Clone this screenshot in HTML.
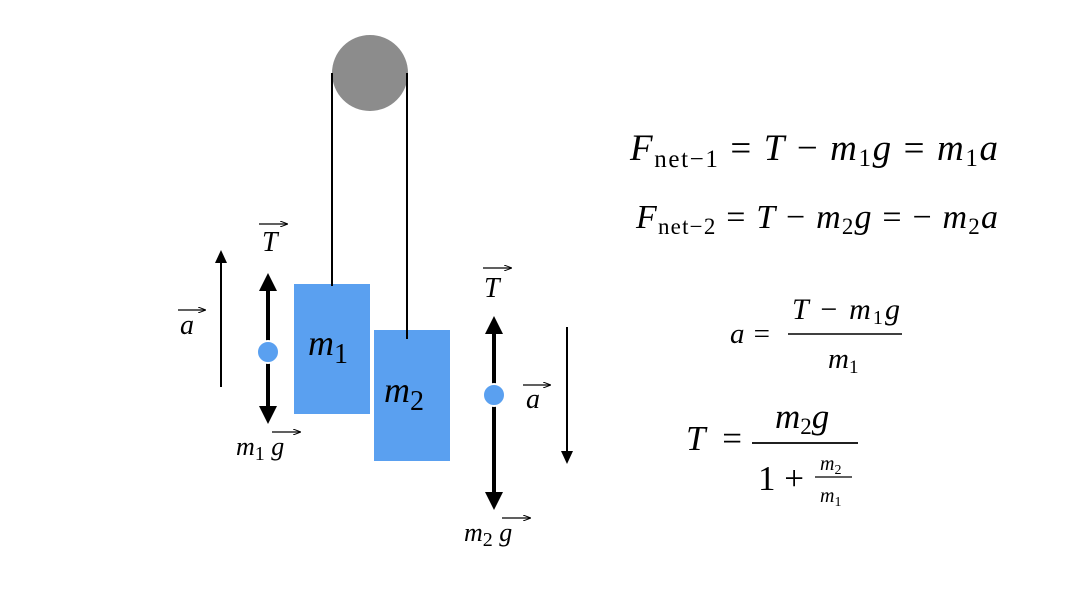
<!DOCTYPE html>
<html><head><meta charset="utf-8"><style>
html,body{margin:0;padding:0;background:#fff;}
svg{display:block;}
text{font-family:"Liberation Serif",serif;fill:#000;}
.i{font-style:italic;}
</style></head><body>
<svg width="1076" height="592" viewBox="0 0 1076 592" xmlns="http://www.w3.org/2000/svg">
<defs>
<marker id="sm" markerWidth="8" markerHeight="6" refX="7" refY="3" orient="auto" markerUnits="userSpaceOnUse"><path d="M0,0 L8,3 L0,6" fill="none" stroke="#000" stroke-width="1"/></marker>
</defs>
<circle cx="370" cy="73" r="38" fill="#8c8c8c"/>
<line x1="332" y1="73" x2="332" y2="286" stroke="#000" stroke-width="2"/>
<line x1="407" y1="73" x2="407" y2="339" stroke="#000" stroke-width="2"/>
<rect x="294" y="284" width="76" height="130" fill="#5aa0f0"/>
<rect x="374" y="330" width="76" height="131" fill="#5aa0f0"/>
<line x1="332" y1="200" x2="332" y2="286" stroke="#000" stroke-width="2"/>
<line x1="407" y1="200" x2="407" y2="339" stroke="#000" stroke-width="2"/>
<text x="308" y="355" class="i" font-size="36">m<tspan font-style="normal" font-size="28" dy="8">1</tspan></text>
<text x="384" y="402" class="i" font-size="36">m<tspan font-style="normal" font-size="28" dy="8">2</tspan></text>
<line x1="221" y1="387" x2="221" y2="262" stroke="#000" stroke-width="2"/>
<polygon points="221,250 215,263 227,263" fill="#000"/>
<text x="180" y="334" class="i" font-size="28">a</text>
<line x1="178" y1="310" x2="205" y2="310" stroke="#000" stroke-width="1.2" marker-end="url(#sm)"/>
<line x1="268" y1="285" x2="268" y2="412" stroke="#000" stroke-width="4"/>
<polygon points="268,273 259,291 277,291" fill="#000"/>
<polygon points="268,424 259,406 277,406" fill="#000"/>
<circle cx="268" cy="352" r="11" fill="#5aa0f0" stroke="#fff" stroke-width="2"/>
<text x="262" y="251" class="i" font-size="28">T</text>
<line x1="259" y1="224" x2="287" y2="224" stroke="#000" stroke-width="1.2" marker-end="url(#sm)"/>
<text x="236" y="455" class="i" font-size="26">m<tspan font-style="normal" font-size="20" dy="5">1</tspan><tspan dy="-5"> g</tspan></text>
<line x1="272" y1="432" x2="300" y2="432" stroke="#000" stroke-width="1.2" marker-end="url(#sm)"/>
<line x1="494" y1="328" x2="494" y2="498" stroke="#000" stroke-width="4"/>
<polygon points="494,316 485,334 503,334" fill="#000"/>
<polygon points="494,510 485,492 503,492" fill="#000"/>
<circle cx="494" cy="395" r="11" fill="#5aa0f0" stroke="#fff" stroke-width="2"/>
<text x="484" y="297" class="i" font-size="28">T</text>
<line x1="483" y1="268" x2="511" y2="268" stroke="#000" stroke-width="1.2" marker-end="url(#sm)"/>
<text x="526" y="408" class="i" font-size="28">a</text>
<line x1="523" y1="385" x2="550" y2="385" stroke="#000" stroke-width="1.2" marker-end="url(#sm)"/>
<line x1="567" y1="327" x2="567" y2="452" stroke="#000" stroke-width="2"/>
<polygon points="567,464 561,451 573,451" fill="#000"/>
<text x="464" y="541" class="i" font-size="26">m<tspan font-style="normal" font-size="20" dy="5">2</tspan><tspan dy="-5"> g</tspan></text>
<line x1="502" y1="518" x2="530" y2="518" stroke="#000" stroke-width="1.2" marker-end="url(#sm)"/>
<text x="630" y="160" font-size="37" textLength="368" lengthAdjust="spacing"><tspan class="i">F</tspan><tspan font-size="25" dy="7">net−1</tspan><tspan dy="-7"> = </tspan><tspan class="i">T</tspan> − <tspan class="i">m</tspan><tspan font-size="25" dy="6">1</tspan><tspan class="i" dy="-6">g</tspan> = <tspan class="i">m</tspan><tspan font-size="25" dy="6">1</tspan><tspan class="i" dy="-6">a</tspan></text>
<text x="636" y="228" font-size="34" textLength="362" lengthAdjust="spacing"><tspan class="i">F</tspan><tspan font-size="23" dy="6">net−2</tspan><tspan dy="-6"> = </tspan><tspan class="i">T</tspan> − <tspan class="i">m</tspan><tspan font-size="23" dy="6">2</tspan><tspan class="i" dy="-6">g</tspan> = − <tspan class="i">m</tspan><tspan font-size="23" dy="6">2</tspan><tspan class="i" dy="-6">a</tspan></text>
<text x="730" y="343" font-size="29" textLength="40" lengthAdjust="spacing"><tspan class="i">a</tspan> =</text>
<text x="792" y="319" font-size="30" textLength="108" lengthAdjust="spacing"><tspan class="i">T</tspan> − <tspan class="i">m</tspan><tspan font-size="20" dy="5">1</tspan><tspan class="i" dy="-5">g</tspan></text>
<line x1="788" y1="334" x2="902" y2="334" stroke="#000" stroke-width="1.5"/>
<text x="828" y="368" font-size="29"><tspan class="i">m</tspan><tspan font-size="19" dy="5">1</tspan></text>
<text x="686" y="450" font-size="35" textLength="56" lengthAdjust="spacing"><tspan class="i">T</tspan> =</text>
<text x="775" y="428" font-size="35"><tspan class="i">m</tspan><tspan font-size="23" dy="6">2</tspan><tspan class="i" dy="-6">g</tspan></text>
<line x1="752" y1="443" x2="858" y2="443" stroke="#000" stroke-width="1.8"/>
<text x="758" y="490" font-size="35">1 +</text>
<text x="820" y="470" font-size="20"><tspan class="i">m</tspan><tspan font-size="14" dy="4">2</tspan></text>
<line x1="815" y1="477" x2="852" y2="477" stroke="#000" stroke-width="1.2"/>
<text x="820" y="502" font-size="20"><tspan class="i">m</tspan><tspan font-size="14" dy="4">1</tspan></text>
</svg>
</body></html>
